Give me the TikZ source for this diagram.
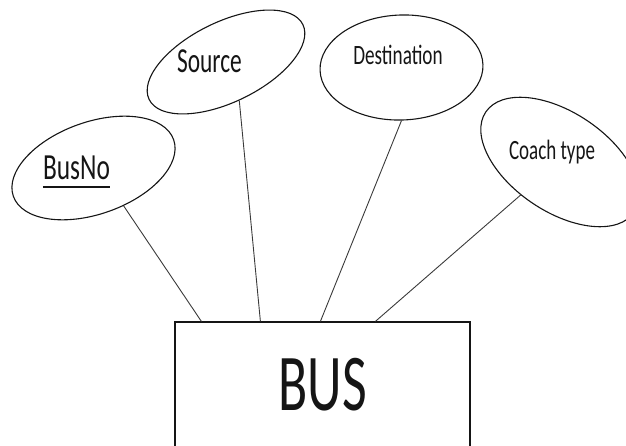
\documentclass[tikz,border=0pt]{standalone}
\usepackage{fontspec}
\setmainfont{Carlito}
\usetikzlibrary{shapes.geometric}
\definecolor{ink}{HTML}{151515}
\definecolor{wire}{HTML}{3A3A3A}
\begin{document}
\begin{tikzpicture}[x=1pt,y=1pt,
  attr/.style={ellipse, draw=ink, line width=1.1pt, inner sep=0pt},
  lbl/.style={anchor=base, inner sep=0pt, text=ink},
  conn/.style={draw=wire, line width=0.9pt},
  entity/.style={rectangle, draw=ink, line width=1.2pt, inner sep=0pt}]
\useasboundingbox (0,0) rectangle (626,445);
\clip (0,0) rectangle (626,445);

% attribute ellipses
\node[attr, minimum width=170, minimum height=92, rotate=19.5] (busno) at (93.5,277) {};
\node[attr, minimum width=171, minimum height=80, rotate=26] (source) at (226,383) {};
\node[attr, minimum width=163, minimum height=105, rotate=2] (dest) at (401.5,377.5) {};
\node[attr, minimum width=179, minimum height=99, rotate=-34] (coach) at (560,283) {};

% attribute labels
\node[lbl, font=\fontsize{25.4}{30}\selectfont] (busnotxt) at (76.5,265) {\scalebox{1}[1.45]{BusNo}};
\draw[ink, line width=1.8pt] ([yshift=-7]busnotxt.base west) -- ([yshift=-7]busnotxt.base east);
\node[lbl, font=\fontsize{23.4}{28}\selectfont] (sourcetxt) at (209.5,372) {\scalebox{1}[1.5]{Source}};
\node[lbl, font=\fontsize{19.2}{23}\selectfont] (desttxt) at (398,380) {\scalebox{1}[1.46]{Destination}};
\node[lbl, font=\fontsize{19}{23}\selectfont] (coachtxt) at (552,285) {\scalebox{1}[1.47]{Coach type}};

% entity box (open at the bottom edge of the page)
\node[entity, minimum width=295, minimum height=140] (bus) at (322.5,53) {};
\node[lbl, font=\fontsize{53.7}{60}\selectfont] (bustxt) at (322.5,35) {\scalebox{1}[1.5]{BUS}};

% connectors
\draw[conn] ([xshift=27]bus.north west) -- (busno.-71);
\draw[conn] ([xshift=86]bus.north west) -- (source.-97);
\draw[conn] ([xshift=146]bus.north west) -- (dest.-92);
\draw[conn] ([xshift=201]bus.north west) -- (coach.-106);
\end{tikzpicture}
\end{document}
